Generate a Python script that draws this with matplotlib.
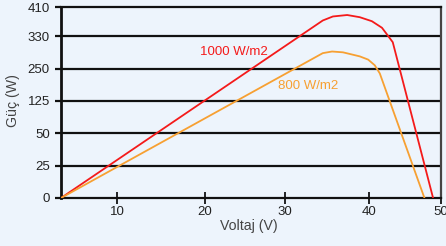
import numpy as np
import matplotlib
matplotlib.use("Agg")
import matplotlib.pyplot as plt

# ---- data ----
volt_1000 = [0, 34.5, 35.7, 37.4, 38.9, 40.4, 41.8, 42.6, 43.3, 48.9]
power_1000 = [0, 373, 384, 388, 382, 371, 353, 332, 315, 0]
volt_800 = [0, 34.5, 35.6, 36.9, 38.9, 39.9, 40.8, 41.5, 47.7]
power_800 = [0, 288, 292, 290, 280, 272, 258, 231, 0]
x_ticks = [10, 20, 30, 40, 50]
y_ticks = [0, 25, 50, 125, 250, 330, 410]
label_1000 = "1000 W/m2"
label_800 = "800 W/m2"

# ---- irregular axis scales (as drawn in the original) ----
x_break_vals = [0, 10, 20, 30, 40, 50]
x_break_pos = [0, 56, 144, 224, 308, 380]
y_break_vals = [0, 25, 50, 125, 250, 330, 410]
y_break_pos = [0, 1, 2, 3, 4, 5, 5.9]

def xf(v):
    return np.interp(v, x_break_vals, x_break_pos)
def xi(p):
    return np.interp(p, x_break_pos, x_break_vals)
def yf(v):
    return np.interp(v, y_break_vals, y_break_pos)
def yi(p):
    return np.interp(p, y_break_pos, y_break_vals)

plt.rcParams['font.family'] = ['Liberation Sans', 'DejaVu Sans']
bg = '#EDF4FC'
fig = plt.figure(figsize=(4.46, 2.46), dpi=100, facecolor=bg)
ax = fig.add_axes([61/446, 1 - 198/246, 380/446, 191/246])
ax.set_facecolor(bg)
ax.set_xscale('function', functions=(xf, xi))
ax.set_yscale('function', functions=(yf, yi))
ax.set_xlim(0, 50)
ax.set_ylim(0, 410)

for v in y_ticks[1:-1]:
    ax.axhline(v, color='#111111', lw=1.6, zorder=1)

ax.plot(volt_1000, power_1000, color='#F41A1A', lw=1.3, zorder=3)
ax.plot(volt_800, power_800, color='#F7A032', lw=1.3, zorder=3)

ax.text(23.6, 292, label_1000, color='#F41A1A', fontsize=9.5, ha='center', va='center')
ax.text(32.7, 182, label_800, color='#F7A032', fontsize=9.5, ha='center', va='center')

ax.set_xticks(x_ticks)
ax.set_xticklabels([str(t) for t in x_ticks])
ax.set_yticks(y_ticks)
ax.set_yticklabels([str(t) for t in y_ticks])
ax.minorticks_off()
ax.tick_params(axis='x', direction='inout', length=8, width=1.2, color='black',
               labelsize=9.5, pad=2, labelcolor='#222222')
ax.tick_params(axis='y', direction='out', length=4, width=1.6, color='#111111',
               labelsize=9.5, pad=4, labelcolor='#222222')

for side in ['left', 'bottom', 'top']:
    ax.spines[side].set_color('#111111')
ax.spines['left'].set_linewidth(2)
ax.spines['bottom'].set_linewidth(1.6)
ax.spines['top'].set_linewidth(1.6)
ax.spines['right'].set_color('#444444')
ax.spines['right'].set_linewidth(1.6)

fig.text(249/446, 1 - 226/246, 'Voltaj (V)', color='#444444', fontsize=10.2,
         ha='center', va='center')
fig.text(13/446, 1 - 101/246, 'Güç (W)', color='#444444', fontsize=10.2,
         ha='center', va='center', rotation=90)

fig.savefig('out.png', dpi=100, facecolor=bg)
